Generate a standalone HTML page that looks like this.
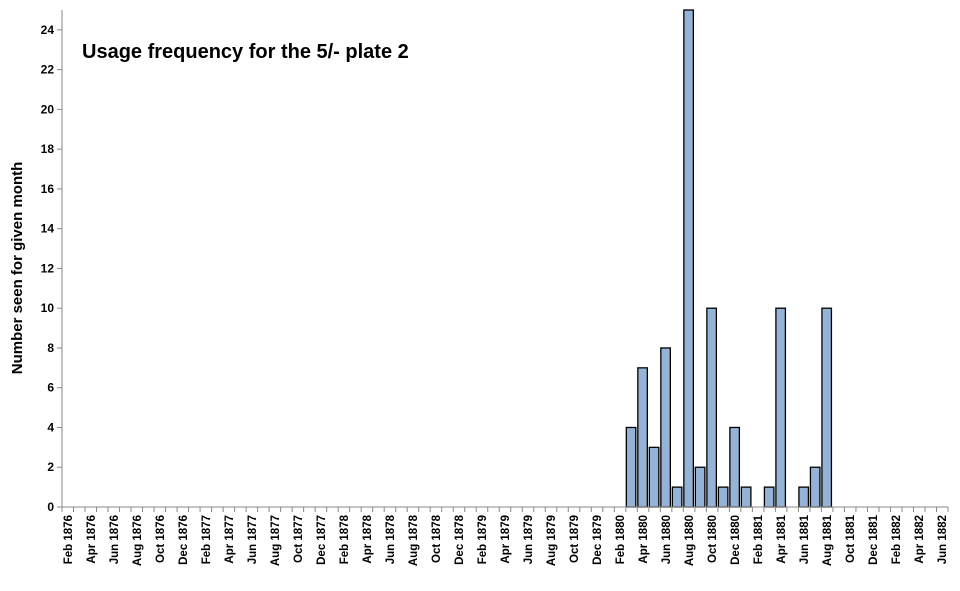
<!DOCTYPE html>
<html><head><meta charset="utf-8"><style>
body{margin:0;background:#fff;font-family:"Liberation Sans",Arial,sans-serif}
svg text{font-family:"Liberation Sans",Arial,sans-serif;font-weight:bold}
</style></head><body>
<svg id="chart" width="960" height="586">
<text x="82" y="58" font-size="20">Usage frequency for the 5/- plate 2</text>
<text transform="translate(22,268) rotate(-90)" text-anchor="middle" font-size="15">Number seen for given month</text>
<g id="g"></g>
</svg>
<script>
const monthNames=["Jan","Feb","Mar","Apr","May","Jun","Jul","Aug","Sep","Oct","Nov","Dec"];
const startYear=1876, startMonth=1, monthCount=77;
const barMonths=["Mar 1880","Apr 1880","May 1880","Jun 1880","Jul 1880","Aug 1880","Sep 1880","Oct 1880","Nov 1880","Dec 1880","Jan 1881","Mar 1881","Apr 1881","Jun 1881","Jul 1881","Aug 1881"];
const barValues=[4,7,3,8,1,30,2,10,1,4,1,1,10,1,2,10];
const yTicks=[0,2,4,6,8,10,12,14,16,18,20,22,24];
const categories=[];
for(let i=0;i<monthCount;i++){const m=(startMonth+i)%12,y=startYear+Math.floor((startMonth+i)/12);categories.push(monthNames[m]+" "+y);}
const L=62,R=948,T=10,B=507,yMax=25;
const slot=(R-L)/categories.length;
const xS=i=>L+i*slot;
const yS=v=>B-(Math.min(v,yMax)/yMax)*(B-T);
const g=document.getElementById('g');
const NS="http://www.w3.org/2000/svg";
function mk(t,a){const e=document.createElementNS(NS,t);for(const k in a)e.setAttribute(k,a[k]);g.appendChild(e);return e;}
yTicks.forEach(v=>{
 const t=mk('line',{x1:L-5,x2:L,y1:yS(v),y2:yS(v),stroke:'#888'});
 
 
 const lb=mk('text',{x:L-8,y:yS(v)+4,'text-anchor':'end','font-size':12});
 lb.textContent=v;
 
 
});
barMonths.forEach((m,k)=>{
 const i=categories.indexOf(m);
 const r=mk('rect',{x:xS(i)+0.5,y:yS(barValues[k]),width:slot-2,height:B-yS(barValues[k]),fill:'#95b3d7',stroke:'#000','stroke-width':1.3});
 
 
});
for(let i=0;i<=categories.length;i++){
 const t=mk('line',{x1:xS(i),x2:xS(i),y1:B,y2:B+5,stroke:'#888'});
 
 
}
categories.forEach((c,i)=>{
 if(i%2!==0)return;
 const cx=xS(i)+slot/2+4;
 const lb=mk('text',{transform:`translate(${cx},515) rotate(-90)`,'text-anchor':'end','font-size':11.5});
 lb.textContent=c;
 
 
});
const ya=mk('line',{x1:L,x2:L,y1:T,y2:B,stroke:'#888'});


const xa=mk('line',{x1:L,x2:R,y1:B,y2:B,stroke:'#888'});


</script>
</body></html>
